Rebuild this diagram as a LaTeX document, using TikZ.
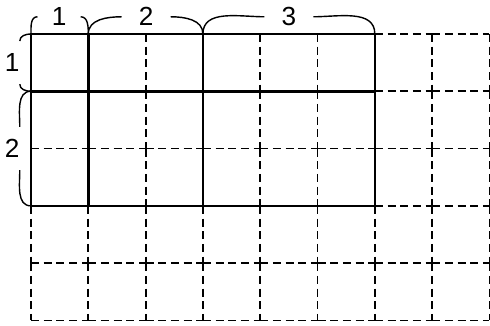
\documentclass[tikz,border=0pt]{standalone}
\usepackage{fontspec}
\setmainfont{Liberation Sans}
\usetikzlibrary{positioning}
\tikzset{
  gridline/.style={line width=0.9pt,dash pattern=on 4pt off 2.3pt},
  boldline/.style={line width=1.3pt},
  bracelab/.style={font=\fontsize{13}{15}\selectfont,inner sep=0pt},
  braceline/.style={line width=0.7pt}
}

\begin{document}
\begin{tikzpicture}
  \useasboundingbox (-0.541,-0.096) rectangle (8.01,5.593);
  % dashed grid, cell by cell
  \foreach \x in {0,...,8}
    \foreach \y in {0,...,4}
      \draw[gridline] (\x,\y+1) -- (\x,\y);
  \foreach \y in {0,...,5}
    \foreach \x in {0,...,7}
      \draw[gridline] (\x,\y) -- (\x+1,\y);
  % the solid rectangle
  \draw[boldline] (0,2) rectangle (6,5);
  \draw[boldline] (1,2) -- (1,5) (3,2) -- (3,5) (0,4) -- (6,4);

  \coordinate (tA) at (0,5);
  \coordinate (tB) at (1,5);
  \coordinate (tC) at (3,5);
  \coordinate (tD) at (6,5);
  \coordinate (lA) at (0,4);
  \coordinate (lB) at (0,2);

  % top braces
  \node[bracelab,minimum width=0.74cm] (top1) at (0.49,5.3) {1};
  \node[bracelab,minimum width=0.84cm] (top2) at (2.01,5.3) {2};
  \node[bracelab,minimum width=0.84cm] (top3) at (4.5,5.3) {3};
  \draw[braceline] (tA) to[out=90,in=180] (top1.west);
  \draw[braceline] (top1.east) to[out=0,in=90] (tB);
  \draw[braceline] (tB) to[out=90,in=180] (top2.west);
  \draw[braceline] (top2.east) to[out=0,in=90] (tC);
  \draw[braceline] (tC) to[out=90,in=180] (top3.west);
  \draw[braceline] (top3.east) to[out=0,in=90] (tD);

  % left braces
  \node[bracelab,minimum height=0.74cm] (left1) at (-0.33,4.5) {1};
  \node[bracelab,minimum height=0.74cm] (left2) at (-0.33,3) {2};
  \draw[braceline] (tA) to[out=180,in=90] (left1.north east);
  \draw[braceline] (left1.south east) to[out=-90,in=180] (lA);
  \draw[braceline] (lA) to[out=180,in=90] (left2.north east);
  \draw[braceline] (left2.south east) to[out=-90,in=180] (lB);
\end{tikzpicture}
\end{document}
